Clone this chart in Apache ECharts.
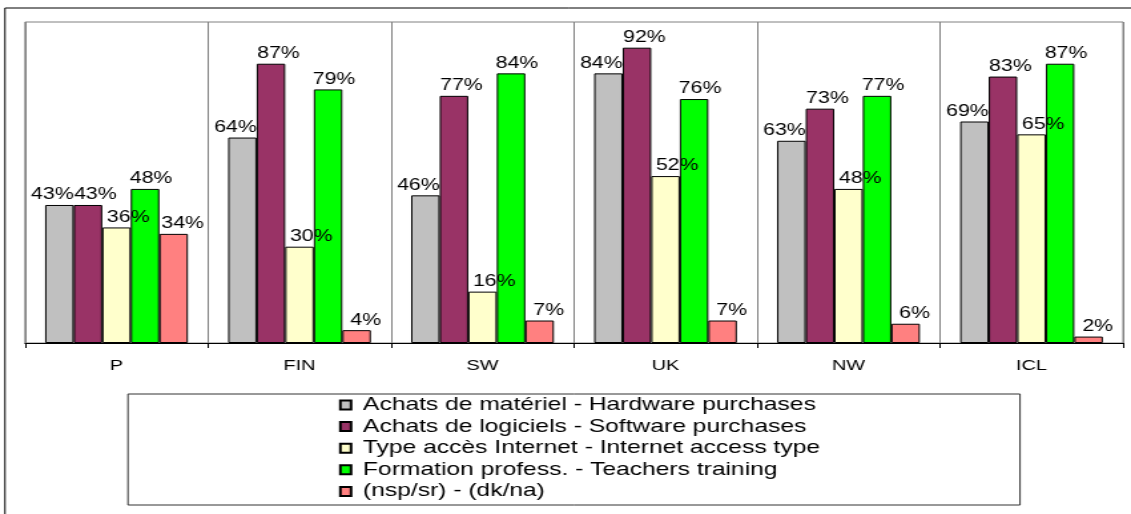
<!DOCTYPE html>
<html>
<head>
<meta charset="utf-8">
<script src="https://cdn.jsdelivr.net/npm/echarts@6/dist/echarts.min.js"></script>
<style>
  html, body { margin: 0; padding: 0; background: #fff; overflow: hidden; }
  #wrap { width: 1131px; height: 514px; overflow: hidden; }
  /* the reference is stretched sideways, so draw narrower and scale up */
  #chart { width: 850px; height: 514px; transform: scaleX(1.330588); transform-origin: 0 0; }
</style>
</head>
<body>
<div id="wrap"><div id="chart"></div></div>
<script>
  const categories = ['P', 'FIN', 'SW', 'UK', 'NW', 'ICL'];
  const seriesNames = [
    'Achats de matériel - Hardware purchases',
    'Achats de logiciels - Software purchases',
    'Type accès Internet - Internet access type',
    'Formation profess. - Teachers training',
    '(nsp/sr) - (dk/na)'
  ];
  const hardware = [43, 64, 46, 84, 63, 69];
  const software = [43, 87, 77, 92, 73, 83];
  const internet = [36, 30, 16, 52, 48, 65];
  const training = [48, 79, 84, 76, 77, 87];
  const dkna = [34, 4, 7, 7, 6, 2];

  const colors = ['#C0C0C0', '#993366', '#FFFFCC', '#00FF00', '#FF8080'];
  // label shift to the side, like the original
  const labelShift = [-5.3, 5.6, 8.8, 4.5, 6.8];
  const font = 'Liberation Sans, Arial, sans-serif';

  const chart = echarts.init(document.getElementById('chart'));

  const makeSeries = (name, data, i) => ({
    name: name,
    type: 'bar',
    data: data,
    barGap: 0,
    barCategoryGap: '22%',
    itemStyle: { color: colors[i], borderColor: '#000', borderWidth: 1 },
    label: {
      show: true,
      position: 'top',
      distance: 2,
      offset: [labelShift[i], 0],
      formatter: '{c}%',
      color: '#000',
      fontSize: 16,
      fontFamily: font
    }
  });

  const option = {
    animation: false,
    backgroundColor: '#fff',
    grid: {
      left: 18.8,
      right: 6,
      top: 22,
      bottom: 171,
      show: true,
      borderColor: '#808080',
      borderWidth: 1
    },
    xAxis: {
      type: 'category',
      data: categories,
      axisLine: { lineStyle: { color: '#000', width: 1 } },
      axisTick: { show: true, length: 5, lineStyle: { color: '#000' } },
      splitLine: { show: true, lineStyle: { color: '#808080', width: 1 } },
      axisLabel: { color: '#000', fontSize: 15, fontFamily: font, margin: 15 }
    },
    yAxis: {
      type: 'value',
      min: 0,
      max: 100,
      show: false
    },
    legend: {
      orient: 'vertical',
      left: 254.8,
      top: 394.2,
      padding: 0,
      itemGap: 0,
      itemWidth: 8,
      itemHeight: 9,
      icon: 'rect',
      textStyle: {
        color: '#000',
        fontSize: 18.5,
        fontFamily: font,
        lineHeight: 21.6,
        padding: [0, 0, 0, 4]
      },
      data: seriesNames
    },
    graphic: [
      {
        type: 'rect',
        shape: { x: 3.76, y: 8, width: 1000, height: 1000 },
        style: { fill: 'none', stroke: '#000', lineWidth: 1 },
        silent: true
      },
      {
        type: 'rect',
        shape: { x: 96.2, y: 394, width: 670.4, height: 111 },
        style: { fill: 'none', stroke: '#333', lineWidth: 1 },
        silent: true,
        z: -1
      }
    ],
    series: [
      makeSeries(seriesNames[0], hardware, 0),
      makeSeries(seriesNames[1], software, 1),
      makeSeries(seriesNames[2], internet, 2),
      makeSeries(seriesNames[3], training, 3),
      makeSeries(seriesNames[4], dkna, 4)
    ]
  };

  chart.setOption(option);
</script>
</body>
</html>
